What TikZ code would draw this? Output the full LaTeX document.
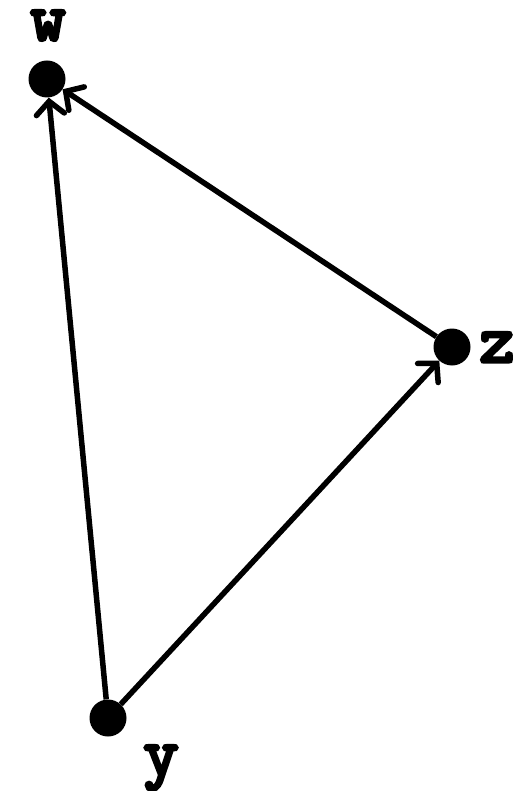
\documentclass[tikz,border=0pt]{standalone}
\usepackage{fontspec}
\newfontfamily\lblfont{Latin Modern Mono}[FakeBold=5]
\usetikzlibrary{arrows.meta}
\begin{document}
\begin{tikzpicture}[x=1pt,y=-1pt,
  dot/.style={circle,fill=black,inner sep=0pt,minimum size=37pt},
  lbl/.style={font=\lblfont\fontsize{68}{68}\selectfont,inner sep=0pt,anchor=base},
  conn/.style={line width=5.5pt,-{Straight Barb[length=13pt,width=28pt,line cap=round]}}]
\useasboundingbox (0,0) rectangle (517,791);
\node[dot] (w) at (47,79) {};
\node[dot] (z) at (452,347) {};
\node[dot] (y) at (108,718) {};
\node[lbl] (lw) at (48,40) {w};
\node[lbl] (lz) at (497,362) {z};
\node[lbl] (ly) at (161,775) {y};
\draw[conn] (y) -- (w);
\draw[conn] (y) -- (z);
\draw[conn] (z) -- (w);
\end{tikzpicture}
\end{document}
